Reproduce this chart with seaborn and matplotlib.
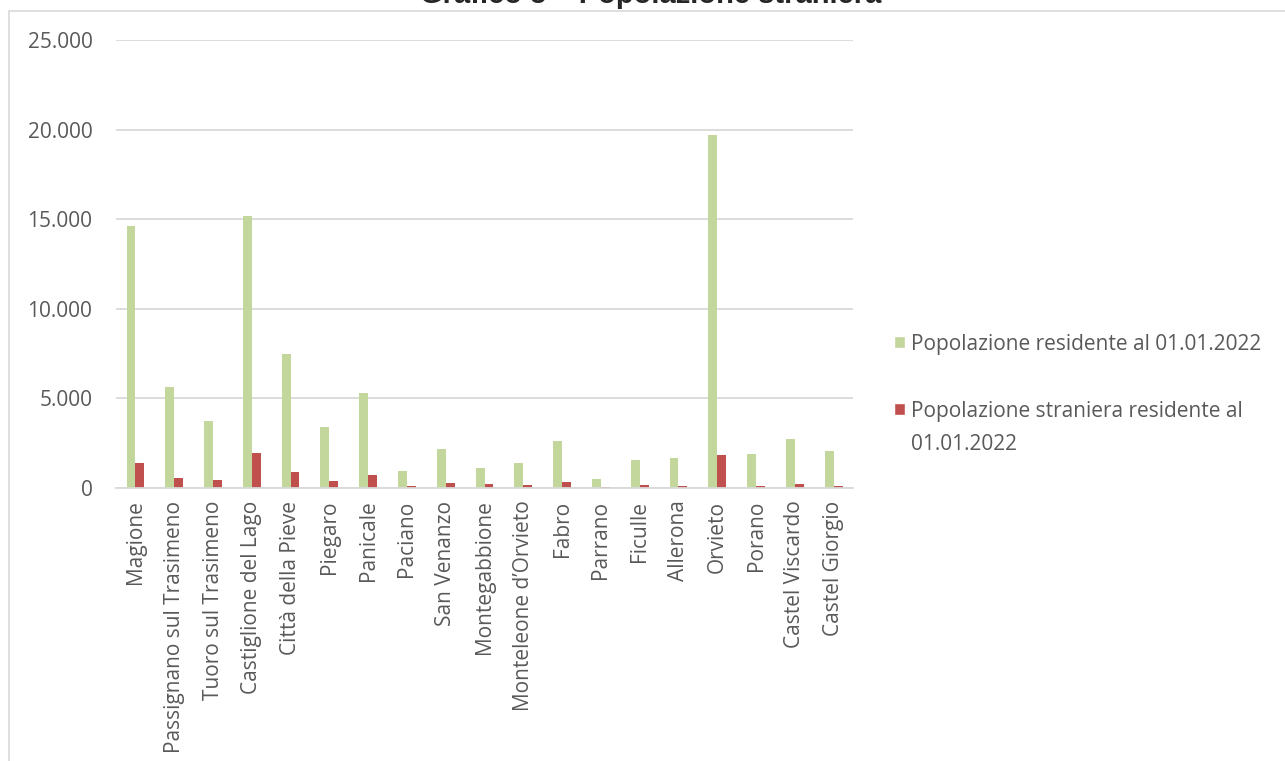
import pandas as pd
import matplotlib.pyplot as plt
import matplotlib.ticker as mticker
from matplotlib.patches import Rectangle, Patch
from matplotlib.legend_handler import HandlerPatch
import seaborn as sns

# Comuni and population values
comuni = ['Magione', 'Passignano sul Trasimeno', 'Tuoro sul Trasimeno', 'Castiglione del Lago',
          'Città della Pieve', 'Piegaro', 'Panicale', 'Paciano', 'San Venanzo', 'Montegabbione',
          'Monteleone d\u2019Orvieto', 'Fabro', 'Parrano', 'Ficulle', 'Allerona', 'Orvieto',
          'Porano', 'Castel Viscardo', 'Castel Giorgio']
residenti = [14600, 5650, 3720, 15170, 7500, 3390, 5320, 960, 2180, 1130,
             1370, 2630, 500, 1590, 1680, 19690, 1890, 2720, 2040]
stranieri = [1390, 570, 430, 1940, 870, 400, 700, 130, 260, 220,
             170, 330, 50, 170, 100, 1820, 100, 220, 130]
serie = ['Popolazione residente al 01.01.2022',
         'Popolazione straniera residente al\n01.01.2022']
colori = ['#C3D69B', '#C0504D']

df = pd.DataFrame({
    'Comune': comuni * 2,
    'Serie': [serie[0]] * len(comuni) + [serie[1]] * len(comuni),
    'Valore': residenti + stranieri,
})

sns.set_style('white')
plt.rcParams['font.family'] = ['Open Sans', 'DejaVu Sans']

fig = plt.figure(figsize=(12.85, 7.61), dpi=100)
ax = fig.add_axes([0.0903, 0.3587, 0.5735, 0.5887])

sns.barplot(data=df, x='Comune', y='Valore', hue='Serie', palette=colori,
            saturation=1, width=0.46, gap=0, linewidth=0, ax=ax, errorbar=None, legend=False)

ax.set_ylim(0, 25000)
ax.set_xlim(-0.5, 18.5)
ax.yaxis.set_major_locator(mticker.MultipleLocator(5000))
ax.yaxis.set_major_formatter(mticker.FuncFormatter(lambda v, p: f'{int(v):,}'.replace(',', '.')))
ax.grid(axis='y', color='#D9D9D9', linewidth=1.3)
ax.set_axisbelow(True)
for s in ['top', 'right', 'left']:
    ax.spines[s].set_visible(False)
ax.spines['bottom'].set_color('#D9D9D9')
ax.spines['bottom'].set_linewidth(1.3)
ax.set_xlabel('')
ax.set_ylabel('')
ax.tick_params(axis='both', length=0, labelsize=15, colors='#595959')
ax.tick_params(axis='y', pad=17)
ax.tick_params(axis='x', pad=9)
plt.setp(ax.get_xticklabels(), rotation=90)


# legend square sits on the first line of the label, as in Excel
def square_top(legend, orig_handle, xdescent, ydescent, width, height, fontsize):
    s = 0.55 * fontsize
    return Rectangle((-xdescent, -ydescent + height - s - 0.13 * fontsize), s, s)


handles = [Patch(facecolor=c) for c in colori]
leg = ax.legend(handles, serie, loc='upper left', bbox_to_anchor=(0.6957, 0.5615),
                bbox_transform=fig.transFigure, frameon=False, fontsize=15,
                labelcolor='#595959', handlelength=0.55, handleheight=1.1,
                handletextpad=0.25, labelspacing=2.2, borderpad=0, borderaxespad=0,
                handler_map={Patch: HandlerPatch(patch_func=square_top)})
for t in leg.get_texts():
    t.set_linespacing(1.75)
for col in leg._legend_handle_box.get_children():
    for row in col.get_children():
        row.align = 'top'

# outer chart border and clipped title
fig.patches.append(Rectangle((0.007, -0.1), 1.2, 1.086, transform=fig.transFigure,
                             fill=False, edgecolor='#D9D9D9', linewidth=1.2))
fig.text(0.506, 1 - 3 / 761, 'Grafico 5 \u2013 Popolazione straniera', ha='center', va='baseline',
         fontsize=21, fontweight='bold', family=['Liberation Sans', 'DejaVu Sans'])

fig.savefig('out.png', dpi=100)
